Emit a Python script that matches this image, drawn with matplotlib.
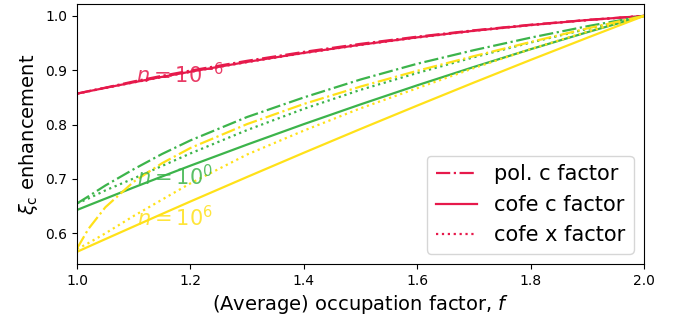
import matplotlib
matplotlib.use("Agg")
import matplotlib.pyplot as plt
from matplotlib.lines import Line2D

# ---- data ----
f = [1.0, 1.02, 1.05, 1.1, 1.15, 1.2, 1.3, 1.4, 1.5, 1.6, 1.7, 1.8, 1.9, 2.0]

# n = 1e-6 (red)
red_pol = [0.857, 0.8616, 0.8680, 0.8795, 0.8898, 0.8994, 0.9174, 0.9338, 0.9486, 0.9618, 0.9735, 0.9838, 0.9926, 1.0]
red_cofe_c = [0.857, 0.8613, 0.8676, 0.8779, 0.8879, 0.8974, 0.9154, 0.9320, 0.9470, 0.9606, 0.9727, 0.9832, 0.9924, 1.0]
red_cofe_x = [0.857, 0.8612, 0.8674, 0.8776, 0.8875, 0.8970, 0.9150, 0.9316, 0.9466, 0.9602, 0.9724, 0.9830, 0.9922, 1.0]

# n = 1e0 (green)
green_pol = [0.655, 0.668, 0.688, 0.718, 0.746, 0.771, 0.814, 0.850, 0.883, 0.912, 0.937, 0.960, 0.981, 1.0]
green_cofe_c = [0.643, 0.6514, 0.6638, 0.6844, 0.7046, 0.7245, 0.7633, 0.8009, 0.8372, 0.8723, 0.9061, 0.9387, 0.9700, 1.0]
green_cofe_x = [0.655, 0.664, 0.679, 0.701, 0.724, 0.747, 0.790, 0.829, 0.864, 0.895, 0.924, 0.951, 0.976, 1.0]

# n = 1e6 (yellow)
yellow_pol = [0.572, 0.608, 0.648, 0.695, 0.729, 0.757, 0.801, 0.838, 0.870, 0.899, 0.926, 0.952, 0.977, 1.0]
yellow_cofe_c = [0.566, 0.5754, 0.5894, 0.6126, 0.6357, 0.6586, 0.7037, 0.7482, 0.7920, 0.8350, 0.8774, 0.9190, 0.9598, 1.0]
yellow_cofe_x = [0.571, 0.582, 0.600, 0.632, 0.662, 0.692, 0.745, 0.789, 0.830, 0.867, 0.904, 0.939, 0.971, 1.0]

labels = ["pol. c factor", "cofe c factor", "cofe x factor"]
n_labels = [r"$n = 10^{-6}$", r"$n = 10^{0}$", r"$n = 10^{6}$"]
label_x = [1.104, 1.106, 1.106]
label_y = [0.877, 0.688, 0.614]

RED, GREEN, YELLOW = "#e6194b", "#3cb44b", "#ffe119"

fig = plt.figure(figsize=(6.84, 3.26), dpi=100)
ax = fig.add_axes([0.1126, 0.1902, 0.8289, 0.7975])

groups = [
    (RED, red_pol, red_cofe_c, red_cofe_x),
    (GREEN, green_pol, green_cofe_c, green_cofe_x),
    (YELLOW, yellow_pol, yellow_cofe_c, yellow_cofe_x),
]
for color, pol, cc, cx in groups:
    ax.plot(f, pol, color=color, ls="-.", lw=1.6)
    ax.plot(f, cc, color=color, ls="-", lw=1.6)
    ax.plot(f, cx, color=color, ls=":", lw=1.6)

for (color, *_), txt, x, y in zip(groups, n_labels, label_x, label_y):
    ax.text(x, y, txt, color=color, fontsize=15, alpha=0.85, va="baseline", ha="left")

ax.set_xlim(1.0, 2.0)
ax.set_ylim(0.5436, 1.0219)
ax.set_xticks([1.0, 1.2, 1.4, 1.6, 1.8, 2.0])
ax.set_yticks([0.6, 0.7, 0.8, 0.9, 1.0])
ax.tick_params(labelsize=10)
ax.set_xlabel(r"(Average) occupation factor, $f$", fontsize=14)
ax.set_ylabel(r"$\xi_\mathrm{c}$ enhancement", fontsize=14)

handles = [Line2D([], [], color=RED, ls=s, lw=1.6) for s in ["-.", "-", ":"]]
ax.legend(handles, labels, loc="lower right", fontsize=15, handlelength=2.0)

fig.savefig("out.png", dpi=100)
